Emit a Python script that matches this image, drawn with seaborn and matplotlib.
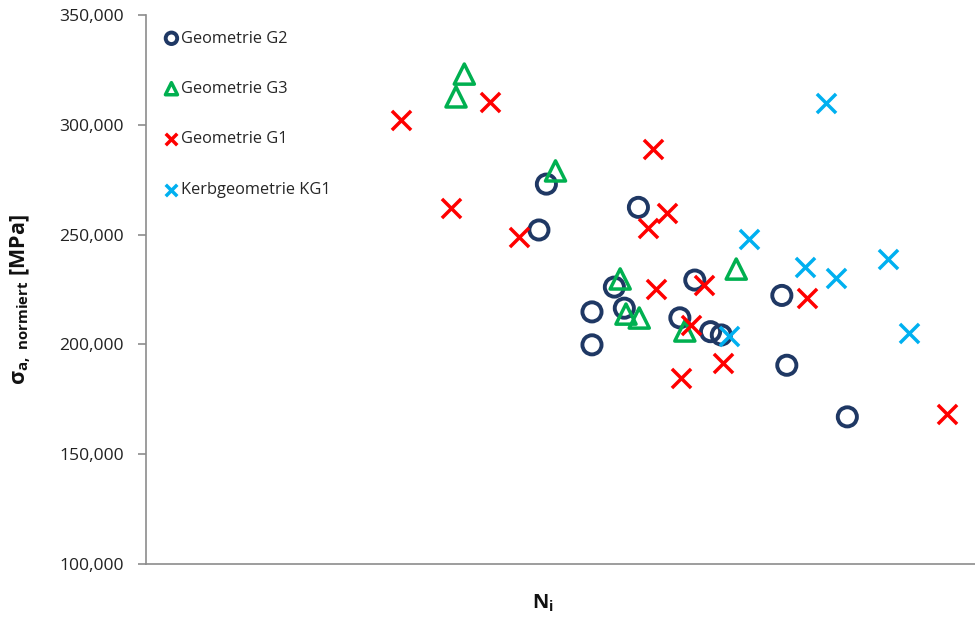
import matplotlib
matplotlib.use("Agg")
import matplotlib.pyplot as plt
import matplotlib.ticker as mticker
import seaborn as sns
import pandas as pd

# Load cycles (relative position, no scale shown) and normalised stress amplitudes
g2_n = [48.3, 47.4, 53.8, 53.8, 59.4, 56.5, 57.7, 64.4, 66.2, 68.1, 69.4, 76.7, 77.3, 84.6]
g2_s = [273000, 252100, 214800, 199800, 262400, 226100, 216500, 212100, 229300, 205800, 204300, 222300, 190500, 167000]

g3_n = [38.4, 37.4, 49.4, 57.2, 57.9, 59.5, 65.0, 71.2]
g3_s = [323100, 312700, 279000, 229800, 213800, 212000, 206100, 234300]

g1_n = [30.8, 36.8, 41.5, 45.0, 61.2, 62.9, 60.6, 61.5, 67.3, 65.8, 69.6, 64.5, 79.7, 96.6]
g1_s = [302200, 262100, 310400, 248900, 289100, 260000, 252900, 225100, 227100, 208800, 191700, 184800, 221100, 168300]

kg1_n = [82.0, 72.7, 79.5, 83.2, 89.5, 92.0, 70.3]
kg1_s = [309800, 248100, 235400, 230400, 238900, 205300, 203800]

y_ticks = [100000, 150000, 200000, 250000, 300000, 350000]

sns.set_theme(style="white")
plt.rcParams["font.family"] = ["Open Sans", "DejaVu Sans"]
plt.rcParams["mathtext.default"] = "regular"

fig = plt.figure(figsize=(9.75, 6.18), dpi=100)
ax = fig.add_axes([0.1497, 0.0874, 0.8503, 0.8883])

navy = "#1f3864"
green = "#00b050"
red = "#ff0000"
cyan = "#00b0f0"

sns.scatterplot(x=g2_n, y=g2_s, marker="o", s=190, facecolors="none",
                edgecolor=navy, linewidth=2.8, label="Geometrie G2", ax=ax, zorder=3)
sns.scatterplot(x=g3_n, y=g3_s, marker="^", s=210, facecolors="none",
                edgecolor=green, linewidth=2.5, label="Geometrie G3", ax=ax, zorder=4)
sns.scatterplot(x=g1_n, y=g1_s, marker="x", s=190, color=red,
                linewidth=2.5, label="Geometrie G1", ax=ax, zorder=5)
sns.scatterplot(x=kg1_n, y=kg1_s, marker="x", s=190, color=cyan,
                linewidth=2.5, label="Kerbgeometrie KG1", ax=ax, zorder=6)

ax.set_xlim(0, 100)
ax.set_ylim(100000, 350000)
ax.set_yticks(y_ticks)
ax.yaxis.set_major_formatter(mticker.FuncFormatter(lambda v, p: f"{int(v):,}"))
ax.set_xticks([])

spine_col = "#8c8c8c"
for side in ["top", "right"]:
    ax.spines[side].set_visible(False)
for side in ["left", "bottom"]:
    ax.spines[side].set_color(spine_col)
    ax.spines[side].set_linewidth(1.2)
ax.tick_params(axis="y", which="major", left=True, length=6, width=1.2,
               color=spine_col, labelsize=12.6, labelcolor="#222222", pad=10)

ax.set_ylabel("σ$_{a,\\ normiert}$ [MPa]", fontsize=15.5, fontweight="bold",
              color="#111111")
ax.yaxis.set_label_coords(-0.136, 0.482)
ax.set_xlabel("N$_{i}$", fontsize=14.5, fontweight="bold", color="#111111")
ax.xaxis.set_label_coords(0.479, -0.052)

leg = ax.legend(loc="upper left", bbox_to_anchor=(0.008, 0.997), frameon=False,
                fontsize=11.8, markerscale=0.6, labelspacing=2.1,
                handlelength=0.6, handletextpad=0.3, borderpad=0.35)

fig.savefig("out.png", dpi=100)
